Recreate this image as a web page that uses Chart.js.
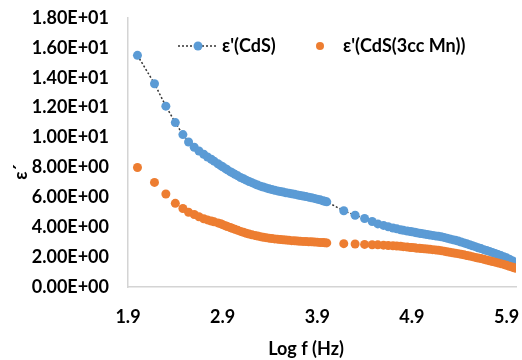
<!DOCTYPE html>
<html>
<head>
<meta charset="utf-8">
<script src="https://cdn.jsdelivr.net/npm/chart.js@4"></script>
<style>
  html, body { margin: 0; padding: 0; background: #fff; }
  #wrap { width: 522px; height: 360px; }
</style>
</head>
<body>
<div id="wrap"><canvas id="epsChart"></canvas></div>
<script>
// Log f (Hz)
const logF = [
  2.00, 2.18, 2.30, 2.40, 2.48, 2.54, 2.60, 2.65, 2.70, 2.74, 2.78, 2.81, 2.85, 2.88, 2.90, 2.93, 2.95, 2.98,
  3.00, 3.03, 3.06, 3.09, 3.12, 3.15, 3.18, 3.21, 3.24, 3.27, 3.30, 3.33, 3.36, 3.39, 3.42, 3.45, 3.48, 3.51,
  3.54, 3.57, 3.60, 3.63, 3.66, 3.69, 3.72, 3.75, 3.78, 3.81, 3.84, 3.87, 3.90, 3.93, 3.96, 3.98, 4.00,
  4.18, 4.30, 4.40, 4.48, 4.54, 4.60, 4.65, 4.70, 4.74, 4.78, 4.81, 4.85, 4.88, 4.90, 4.93, 4.95, 4.98,
  5.00, 5.03, 5.06, 5.09, 5.12, 5.15, 5.18, 5.21, 5.24, 5.27, 5.30, 5.33, 5.36, 5.39, 5.42, 5.45, 5.48, 5.51,
  5.54, 5.57, 5.60, 5.63, 5.66, 5.69, 5.72, 5.75, 5.78, 5.81, 5.84, 5.87, 5.90, 5.93, 5.96, 5.98, 6.00
];

// ε'(CdS)
const epsCdS = [
  15.5, 13.6, 12.1, 11.0, 10.2, 9.7, 9.35, 9.1, 8.88, 8.7, 8.55, 8.42, 8.25, 8.12, 8.05, 7.92, 7.84, 7.72,
  7.65, 7.54, 7.44, 7.33, 7.24, 7.15, 7.06, 6.98, 6.9, 6.82, 6.75, 6.69, 6.63, 6.57, 6.52, 6.47, 6.43, 6.39,
  6.35, 6.31, 6.28, 6.24, 6.2, 6.16, 6.12, 6.09, 6.05, 6.01, 5.97, 5.93, 5.88, 5.83, 5.77, 5.73, 5.7,
  5.1, 4.8, 4.58, 4.38, 4.22, 4.12, 4.03, 3.95, 3.89, 3.83, 3.79, 3.75, 3.72, 3.7, 3.66, 3.63, 3.6,
  3.58, 3.55, 3.51, 3.48, 3.45, 3.42, 3.39, 3.36, 3.32, 3.27, 3.22, 3.17, 3.12, 3.07, 3.01, 2.95, 2.89, 2.83,
  2.76, 2.7, 2.63, 2.57, 2.5, 2.44, 2.38, 2.31, 2.24, 2.17, 2.1, 2.03, 1.95, 1.86, 1.76, 1.68, 1.6
];

// ε'(CdS(3cc Mn))
const epsCdSMn = [
  8.0, 7.0, 6.22, 5.6, 5.25, 5.0, 4.85, 4.7, 4.57, 4.49, 4.42, 4.36, 4.29, 4.23, 4.17, 4.1, 4.05, 3.98,
  3.93, 3.86, 3.79, 3.72, 3.66, 3.6, 3.54, 3.49, 3.45, 3.41, 3.37, 3.33, 3.3, 3.27, 3.24, 3.22, 3.2, 3.18,
  3.16, 3.14, 3.12, 3.1, 3.09, 3.07, 3.06, 3.05, 3.04, 3.03, 3.02, 3.01, 3.0, 2.98, 2.97, 2.96, 2.95,
  2.9, 2.88, 2.85, 2.83, 2.82, 2.8, 2.78, 2.76, 2.74, 2.72, 2.7, 2.67, 2.65, 2.64, 2.62, 2.6, 2.59,
  2.58, 2.56, 2.54, 2.52, 2.5, 2.48, 2.46, 2.43, 2.4, 2.36, 2.32, 2.29, 2.26, 2.23, 2.19, 2.15, 2.11, 2.07,
  2.03, 1.98, 1.94, 1.9, 1.85, 1.81, 1.76, 1.71, 1.66, 1.61, 1.56, 1.51, 1.45, 1.39, 1.33, 1.29, 1.25
];

const xTicks = [1.9, 2.9, 3.9, 4.9, 5.9];
const yTicks = [0, 2, 4, 6, 8, 10, 12, 14, 16, 18];
const yTickLabels = ['0.00E+00', '2.00E+00', '4.00E+00', '6.00E+00', '8.00E+00',
                     '1.00E+01', '1.20E+01', '1.40E+01', '1.60E+01', '1.80E+01'];

const seriesNames = ["ε'(CdS)", "ε'(CdS(3cc Mn))"];
const BLUE = '#5B9BD5';
const ORANGE = '#ED7D31';
const FONT = 'Lato';
const FONT_SIZE = 18;

function toPoints(ys) {
  return logF.map((x, i) => ({ x: x, y: ys[i] }));
}

// leyenda dentro del area + titulos de ejes
const overlay = {
  id: 'overlay',
  afterDraw(chart) {
    const ctx = chart.ctx;
    ctx.save();
    ctx.font = 'bold ' + FONT_SIZE + 'px ' + FONT;
    ctx.fillStyle = '#000';
    ctx.textBaseline = 'middle';

    // serie 1: linea punteada + marcador
    ctx.strokeStyle = '#333';
    ctx.lineWidth = 1.5;
    ctx.setLineDash([2, 2]);
    ctx.beginPath();
    ctx.moveTo(178, 46);
    ctx.lineTo(216, 46);
    ctx.stroke();
    ctx.setLineDash([]);
    ctx.fillStyle = BLUE;
    ctx.beginPath();
    ctx.arc(198, 46, 4.5, 0, Math.PI * 2);
    ctx.fill();
    ctx.fillStyle = '#000';
    ctx.textAlign = 'left';
    ctx.fillText(seriesNames[0], 222, 46);

    // serie 2: solo marcador
    ctx.fillStyle = ORANGE;
    ctx.beginPath();
    ctx.arc(320, 46, 4, 0, Math.PI * 2);
    ctx.fill();
    ctx.fillStyle = '#000';
    ctx.fillText(seriesNames[1], 343, 46);

    // titulo eje x
    ctx.textAlign = 'center';
    ctx.fillText('Log f (Hz)', 306, 349);

    // titulo eje y (rotado)
    ctx.translate(21, 172);
    ctx.rotate(-Math.PI / 2);
    ctx.fillText('ε´', 0, 0);
    ctx.restore();
  }
};

const ctx = document.getElementById('epsChart').getContext('2d');
new Chart(ctx, {
  type: 'scatter',
  data: {
    datasets: [
      {
        label: seriesNames[0],
        data: toPoints(epsCdS),
        showLine: true,
        borderColor: '#333',
        borderWidth: 1.5,
        borderDash: [2, 2],
        pointBackgroundColor: BLUE,
        pointBorderColor: BLUE,
        pointBorderWidth: 0,
        pointRadius: 4.5,
        order: 1
      },
      {
        label: seriesNames[1],
        data: toPoints(epsCdSMn),
        showLine: false,
        pointBackgroundColor: ORANGE,
        pointBorderColor: ORANGE,
        pointBorderWidth: 0,
        pointRadius: 4.5,
        order: 0
      }
    ]
  },
  options: {
    responsive: true,
    maintainAspectRatio: false,
    animation: false,
    layout: { padding: { top: 18, right: 6, left: 0, bottom: 0 } },
    plugins: {
      legend: { display: false },
      tooltip: { enabled: false }
    },
    scales: {
      x: {
        type: 'linear',
        min: 1.9,
        max: 6.0,
        afterBuildTicks: function(scale) {
          scale.ticks = xTicks.map(v => ({ value: v }));
        },
        afterFit: function(scale) {
          scale.height = 73;
          scale.paddingLeft = 0;
          scale.paddingRight = 0;
        },
        grid: { display: false, drawTicks: false },
        border: { color: '#d4d4d4', width: 1.5 },
        ticks: {
          padding: 19,
          color: '#000',
          font: { family: FONT, size: FONT_SIZE, weight: 'bold' },
          callback: function(value) { return value.toFixed(1); }
        }
      },
      y: {
        min: 0,
        max: 18,
        afterBuildTicks: function(scale) {
          scale.ticks = yTicks.map(v => ({ value: v }));
        },
        afterFit: function(scale) {
          scale.width = 128;
          scale.paddingTop = 0;
          scale.paddingBottom = 0;
        },
        grid: { display: false, drawTicks: false },
        border: { color: '#d4d4d4', width: 1.5 },
        ticks: {
          padding: 19,
          color: '#000',
          font: { family: FONT, size: FONT_SIZE, weight: 'bold' },
          callback: function(value, index) { return yTickLabels[index]; }
        }
      }
    }
  },
  plugins: [overlay]
});
</script>
</body>
</html>
